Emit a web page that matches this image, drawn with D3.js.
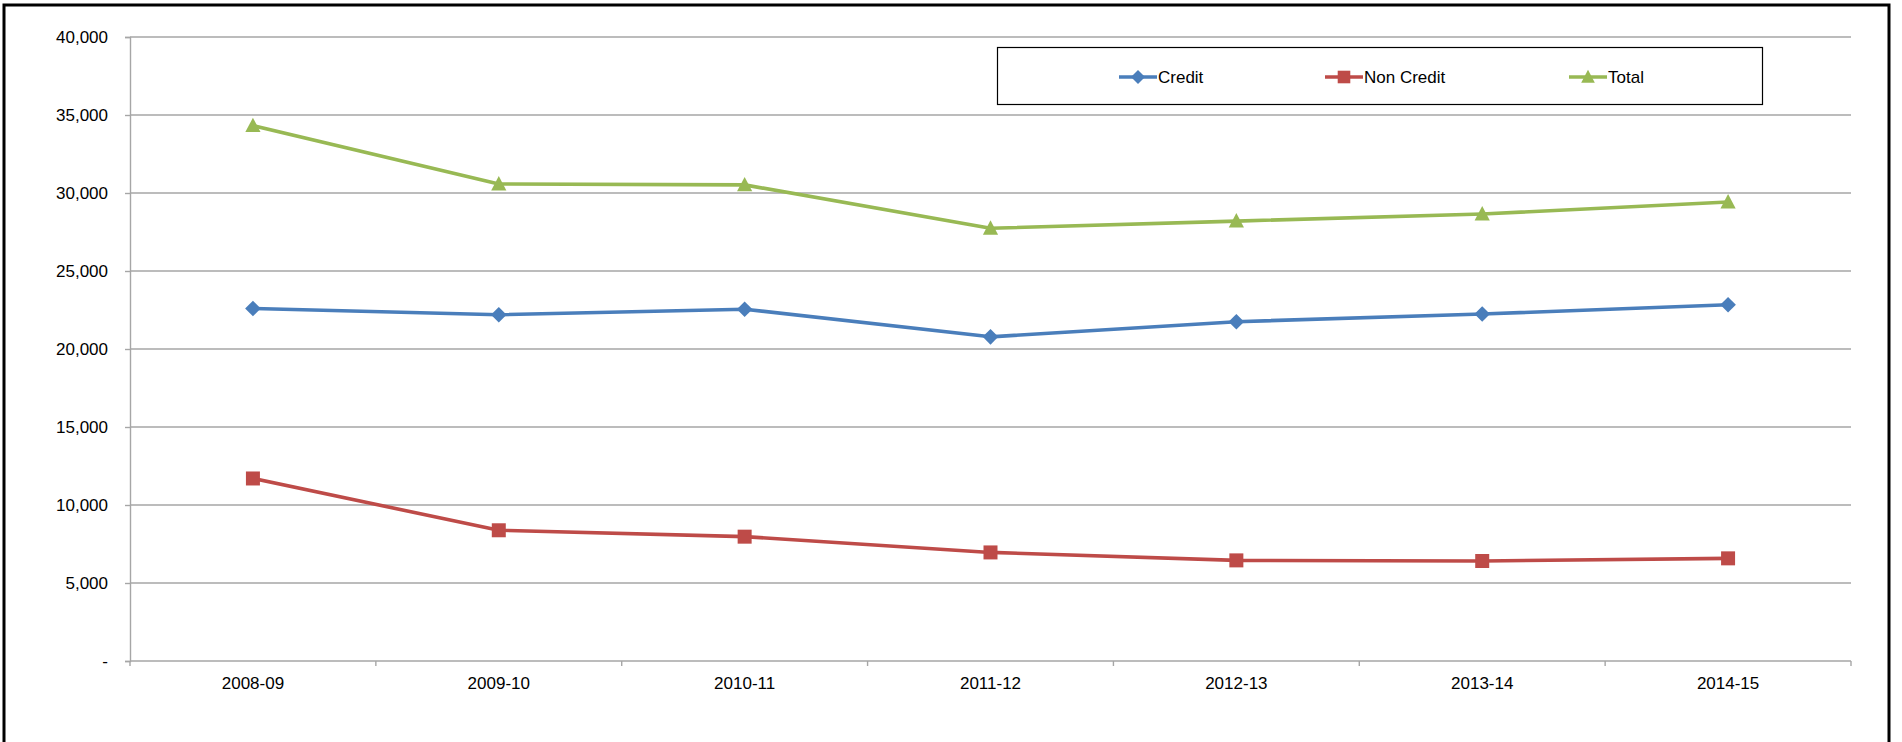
<!DOCTYPE html>
<html><head><meta charset="utf-8">
<script src="https://cdn.jsdelivr.net/npm/d3@7"></script>
<style>
html,body{margin:0;padding:0;background:#fff;}
svg{display:block;font-family:"Liberation Sans",Arial,sans-serif;}
</style></head>
<body><svg id="c" width="1902" height="742"></svg>
<script>
const categories = ["2008-09","2009-10","2010-11","2011-12","2012-13","2013-14","2014-15"];
const credit    = [22600, 22200, 22550, 20780, 21750, 22240, 22840];
const nonCredit = [11700, 8380, 7970, 6960, 6450, 6410, 6580];
const total     = [34320, 30580, 30520, 27740, 28200, 28650, 29420];
const seriesNames = ["Credit","Non Credit","Total"];
const yTicks = [0,5000,10000,15000,20000,25000,30000,35000,40000];

const colors = ["#4A7EBB","#BE4B48","#98B954"];
// marker shapes (custom, Excel-like)
const diamond = {draw(ctx, r){ctx.moveTo(0,-r);ctx.lineTo(r,0);ctx.lineTo(0,r);ctx.lineTo(-r,0);ctx.closePath();}};
const square  = {draw(ctx, r){ctx.rect(-r,-r,2*r,2*r);}};
const triangle= {draw(ctx, r){ctx.moveTo(0,-r*1.05);ctx.lineTo(r,r*0.85);ctx.lineTo(-r,r*0.85);ctx.closePath();}};
const symbols = [diamond, square, triangle];
const symR = [7.8, 7, 7.6];
const series = [credit, nonCredit, total].map((v,i)=>({name:seriesNames[i], values:v, color:colors[i], sym:symbols[i], r:symR[i]}));
const mk = (s, k=1) => { const p = d3.path(); s.sym.draw(p, s.r*k); return p.toString(); };

const svg = d3.select("#c");
const L=130, R=1851, T=37, B=661;
const x = d3.scaleBand().domain(categories).range([L,R]);
const y = d3.scaleLinear().domain([0,40000]).range([B,T]);

// outer frame
svg.append("path").attr("d","M4,750 V5 H1889 V750").attr("fill","none").attr("stroke","#000").attr("stroke-width",3);

// gridlines
svg.append("g").selectAll("line").data(yTicks.filter(d=>d>0)).join("line")
  .attr("x1",L).attr("x2",R).attr("y1",d=>y(d)).attr("y2",d=>y(d))
  .attr("stroke","#A6A6A6").attr("stroke-width",1.4);

// y axis
const fmt = d3.format(",");
const yAxis = d3.axisLeft(y).tickValues(yTicks).tickSize(5).tickPadding(17)
  .tickFormat(d=> d===0 ? "-" : fmt(d));
const gy = svg.append("g").attr("transform",`translate(${L},0)`).call(yAxis);
gy.select(".domain").attr("stroke","#A6A6A6").attr("stroke-width",1.4);
gy.selectAll(".tick line").attr("stroke","#A6A6A6").attr("stroke-width",1.4);
gy.selectAll("text").attr("font-size",17).attr("fill","#000").attr("font-family","'Liberation Sans',Arial,sans-serif");

// x axis
const gx = svg.append("g").attr("transform",`translate(0,${B})`);
gx.append("line").attr("x1",L).attr("x2",R).attr("stroke","#A6A6A6").attr("stroke-width",1.4);
const bounds = categories.map(c=>x(c)).concat([R]);
gx.selectAll("line.tk").data(bounds).join("line").attr("class","tk")
  .attr("x1",d=>d).attr("x2",d=>d).attr("y1",0).attr("y2",5)
  .attr("stroke","#A6A6A6").attr("stroke-width",1.4);
gx.selectAll("text").data(categories).join("text")
  .attr("x",d=>x(d)+x.bandwidth()/2).attr("y",28)
  .attr("text-anchor","middle").attr("font-size",17).attr("fill","#000").text(d=>d);

// lines
const line = d3.line().x((d,i)=>x(categories[i])+x.bandwidth()/2).y(d=>y(d));
series.forEach(s=>{
  svg.append("path").datum(s.values).attr("d",line).attr("fill","none")
    .attr("stroke",s.color).attr("stroke-width",3.6).attr("stroke-linejoin","round");
  svg.append("g").selectAll("path").data(s.values).join("path")
    .attr("d",mk(s))
    .attr("transform",(d,i)=>`translate(${x(categories[i])+x.bandwidth()/2},${y(d)})`)
    .attr("fill",s.color);
});

// legend
const lg = svg.append("g");
lg.append("rect").attr("x",997.5).attr("y",47.5).attr("width",765).attr("height",57)
  .attr("fill","#fff").attr("stroke","#000").attr("stroke-width",1.2);
const legX = [1119, 1325, 1569];
series.forEach((s,i)=>{
  const g = lg.append("g").attr("transform",`translate(${legX[i]},77)`);
  g.append("line").attr("x1",0).attr("x2",38).attr("stroke",s.color).attr("stroke-width",3.6);
  g.append("path").attr("d",mk(s,0.9)).attr("transform","translate(19,0)").attr("fill",s.color);
  g.append("text").attr("x",39).attr("y",6).attr("font-size",17).attr("fill","#000").text(s.name);
});
</script></body></html>
